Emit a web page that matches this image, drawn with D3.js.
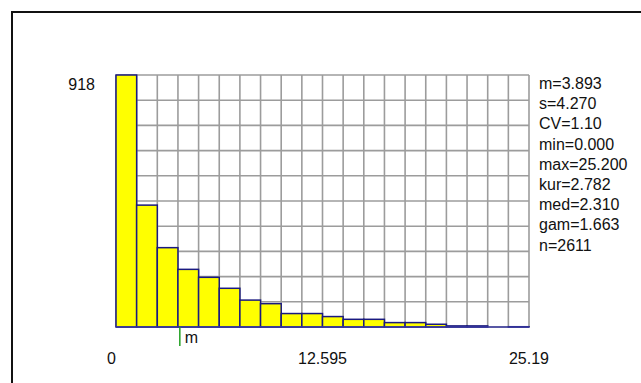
<!DOCTYPE html>
<html>
<head>
<meta charset="utf-8">
<script src="https://cdn.jsdelivr.net/npm/d3@7"></script>
<style>
  body { margin: 0; background: #fff; }
  svg { display: block; font-family: "Liberation Sans", Arial, sans-serif; }
</style>
</head>
<body>
<svg id="hist" width="641" height="383"></svg>
<script>
// histogram counts, 20 bins of equal width from 0 to 25.19
var counts = [918, 444, 289, 210, 181, 141, 98, 85, 49, 49, 38, 28, 28, 16, 16, 10, 4, 4, 0, 1];
var xMax = 25.19;
var yMax = 918;
var xTicks = [0, 12.595, 25.19];
var xTickLabels = ["0", "12.595", "25.19"];
var meanValue = 3.893;
var stats = ["m=3.893", "s=4.270", "CV=1.10", "min=0.000", "max=25.200", "kur=2.782", "med=2.310", "gam=1.663", "n=2611"];

var svg = d3.select("#hist"),
    margin = {top: 75, left: 116},
    width = 413,
    height = 252,
    g = svg.append("g").attr("transform", "translate(" + margin.left + "," + margin.top + ")");

// outer frame (runs off the right/bottom edge)
svg.append("rect")
    .attr("x", 12).attr("y", 12)
    .attr("width", 700).attr("height", 500)
    .attr("fill", "none")
    .attr("stroke", "#111")
    .attr("stroke-width", 2);

var binW = xMax / counts.length;
var bins = counts.map(function(c, i) { return {x0: i * binW, x1: (i + 1) * binW, n: c}; });

var x = d3.scaleLinear().domain([0, xMax]).range([0, width]);
var y = d3.scaleLinear().domain([0, yMax]).range([height, 0]);

// grid
g.append("g")
    .attr("class", "grid")
    .selectAll("line.v")
    .data(d3.range(counts.length + 1))
    .enter().append("line")
      .attr("x1", function(i) { return x(i * binW); })
      .attr("x2", function(i) { return x(i * binW); })
      .attr("y1", 0).attr("y2", height)
      .attr("stroke", "#9c9c9c")
      .attr("stroke-width", 1.6);

g.append("g")
    .attr("class", "grid")
    .selectAll("line.h")
    .data(d3.range(11))
    .enter().append("line")
      .attr("x1", 0).attr("x2", width)
      .attr("y1", function(i) { return y(i * yMax / 10); })
      .attr("y2", function(i) { return y(i * yMax / 10); })
      .attr("stroke", "#9c9c9c")
      .attr("stroke-width", 1.6);

// bars
g.selectAll(".bar")
    .data(bins.filter(function(d) { return d.n > 0; }))
    .enter().append("rect")
      .attr("class", "bar")
      .attr("x", function(d) { return x(d.x0); })
      .attr("y", function(d) { return y(d.n); })
      .attr("width", function(d) { return x(d.x1) - x(d.x0); })
      .attr("height", function(d) { return y(0) - y(d.n); })
      .attr("fill", "#ffff00")
      .attr("stroke", "#1a1a80")
      .attr("stroke-width", 1.5);

// baseline
g.append("line")
    .attr("x1", 0).attr("x2", width)
    .attr("y1", height).attr("y2", height)
    .attr("stroke", "#3a3aa0")
    .attr("stroke-width", 1.5);

// x axis labels
g.selectAll(".xlab")
    .data(xTicks)
    .enter().append("text")
      .attr("class", "xlab")
      .attr("x", function(d) { return x(d); })
      .attr("y", height + 37)
      .attr("text-anchor", function(d, i) { return i === 0 ? "end" : "middle"; })
      .style("font-size", "16px")
      .attr("fill", "#111")
      .text(function(d, i) { return xTickLabels[i]; });

// y max label
g.append("text")
    .attr("x", -21)
    .attr("y", 15)
    .attr("text-anchor", "end")
    .style("font-size", "16px")
    .attr("fill", "#111")
    .text(yMax);

// mean marker
g.append("line")
    .attr("x1", x(meanValue)).attr("x2", x(meanValue))
    .attr("y1", height).attr("y2", height + 19)
    .attr("stroke", "#22a022")
    .attr("stroke-width", 1.5);

g.append("text")
    .attr("x", x(meanValue) + 5)
    .attr("y", height + 16)
    .style("font-size", "16px")
    .attr("fill", "#111")
    .text("m");

// stats
g.selectAll(".stat")
    .data(stats)
    .enter().append("text")
      .attr("class", "stat")
      .attr("x", width + 10)
      .attr("y", function(d, i) { return 14 + i * 20.2; })
      .style("font-size", "16px")
      .attr("fill", "#111")
      .text(function(d) { return d; });
</script>
</body>
</html>
